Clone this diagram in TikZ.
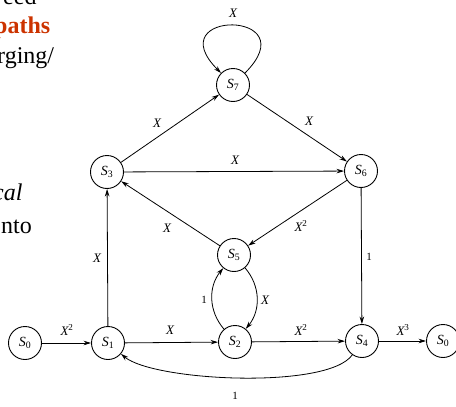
\documentclass[tikz,border=0pt]{standalone}
\usepackage{fontspec}
\setmainfont{Liberation Serif}
\usetikzlibrary{arrows.meta}
\definecolor{slidered}{RGB}{204,51,0}
\newcommand{\stl}[1]{\textit{S}\textsubscript{#1}}
\begin{document}
\begin{tikzpicture}[x=1pt,y=1pt,
  st/.style={circle,draw,line width=0.9pt,minimum size=33pt,inner sep=0pt,font=\fontsize{14}{14}\selectfont},
  ed/.style={line width=0.8pt,-{Stealth[length=7.5pt,width=4.5pt]}},
  lbl/.style={font=\fontsize{13}{13}\selectfont\itshape,inner sep=0pt},
  one/.style={font=\fontsize{11}{11}\selectfont,inner sep=0pt},
  slide/.style={font=\fontsize{24}{24}\selectfont,anchor=base west,inner sep=0pt}]
\useasboundingbox (0,0) rectangle (456,-407);

% slide text fragments
\node[slide] (t1) at (3,-4) {eed};
\node[slide,text=slidered,font=\fontsize{24}{24}\selectfont\bfseries] (t2) at (-6,-33) {paths};
\node[slide] (t3) at (-3,-63) {rging/};
\node[slide,font=\fontsize{24}{24}\selectfont\itshape] (t4) at (-7,-200) {cal};
\node[slide] (t5) at (1,-233) {nto};

% states
\node[st] (s7) at (233,-85) {\stl{7}};
\node[st] (s3) at (107,-172) {\stl{3}};
\node[st] (s6) at (361,-171) {\stl{6}};
\node[st] (s5) at (234,-255) {\stl{5}};
\node[st] (s0) at (25,-343) {\stl{0}};
\node[st] (s1) at (108,-343) {\stl{1}};
\node[st] (s2) at (235,-342) {\stl{2}};
\node[st] (s4) at (362,-341) {\stl{4}};
\node[st] (s0b) at (443,-341) {\stl{0}};

% connectors
\draw[ed] (s7.45) .. controls +(45:90) and +(135:90) .. (s7.135);
\draw[ed] (s3) -- (s7);
\draw[ed] (s7) -- (s6);
\draw[ed] (s3) -- (s6);
\draw[ed] (s5) -- (s3);
\draw[ed] (s6) -- (s5);
\draw[ed] (s6) -- (s4);
\draw[ed] (s1) -- (s3);
\draw[ed] (s0) -- (s1);
\draw[ed] (s1) -- (s2);
\draw[ed] (s2) to[bend left=40] (s5);
\draw[ed] (s5) to[bend left=40] (s2);
\draw[ed] (s2) -- (s4);
\draw[ed] (s4) -- (s0b);
\draw[ed] (s4) to[out=235,in=-40,looseness=0.47] (s1);

% labels
\node[lbl] (l1) at (233,-13) {X};
\node[lbl] (l2) at (157,-123) {X};
\node[lbl] (l3) at (309,-121) {X};
\node[lbl] (l4) at (235,-160) {X};
\node[lbl] (l5) at (167,-228) {X};
\node[lbl] (l6) at (301,-226) {X\textsuperscript{\upshape 2}};
\node[one] (l7) at (369,-257) {1};
\node[lbl] (l8) at (97,-258) {X};
\node[lbl] (l9) at (67,-330) {X\textsuperscript{\upshape 2}};
\node[lbl] (l10) at (170,-330) {X};
\node[one] (l11) at (204,-300) {1};
\node[lbl] (l12) at (265,-300) {X};
\node[lbl] (l13) at (301,-330) {X\textsuperscript{\upshape 2}};
\node[lbl] (l14) at (403,-330) {X\textsuperscript{\upshape 3}};
\node[one] (l15) at (235,-396) {1};
\end{tikzpicture}
\end{document}
